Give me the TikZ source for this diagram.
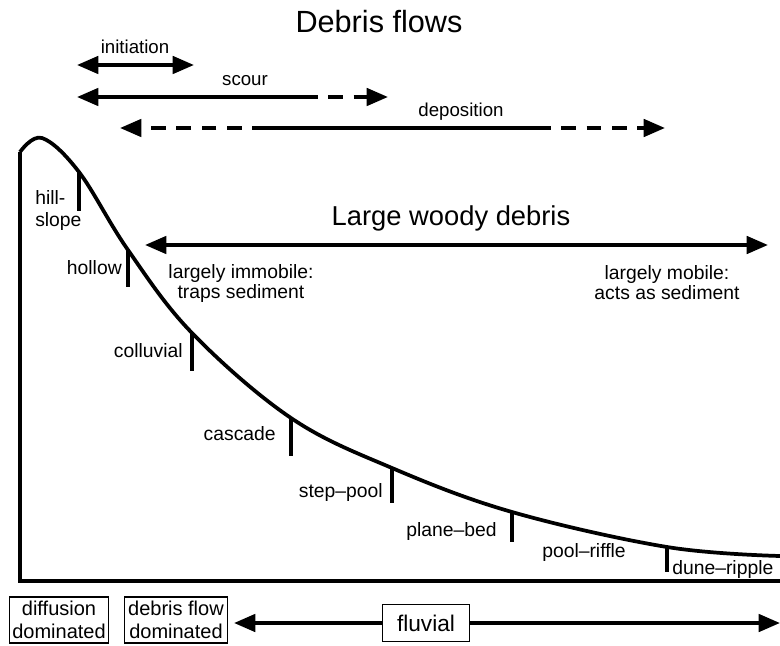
\documentclass[tikz,border=0pt]{standalone}
\usepackage{fontspec}
\setmainfont{Liberation Sans}
\usetikzlibrary{arrows.meta,positioning}

\begin{document}
\begin{tikzpicture}[x=0.75pt,y=-0.75pt,>={Triangle[length=16pt,width=13pt]}]
\tikzstyle{reach} = [font=\fontsize{14.5}{16.5}\selectfont, align=left, inner sep=0pt]
\tikzstyle{note} = [font=\fontsize{14}{15}\selectfont, align=center, inner sep=0pt]
\tikzstyle{thick line} = [line width=2.8pt]
\tikzstyle{broken} = [line width=2.8pt, dash pattern=on 11pt off 8pt]
\tikzstyle{zone} = [draw, line width=1.2pt, font=\fontsize{15}{17}\selectfont, align=center, inner sep=2pt, minimum height=34.5pt]

\useasboundingbox (0,0) rectangle (780,645);

% axes and profile
\coordinate (peakfoot) at (20,152);
\coordinate (origin) at (20,581);
\coordinate (xend) at (780,581);
\draw[thick line] (peakfoot) -- (origin) -- (xend);
\draw[thick line] plot[smooth, tension=0.6] coordinates {(20,152) (42,138) (79,172) (128,250) (192,333) (291,418) (392,468) (512,512) (667,547) (780,556)};

% channel reaches
\draw[thick line] (79,172) -- (79,211);
\node [reach, anchor=west] (hillslope) at (35,211) {hill-\\slope};
\draw[thick line] (128,250) -- (128,287);
\node [reach, anchor=east] (hollow) at (122,268) {hollow};
\draw[thick line] (192,333) -- (192,371);
\node [reach, anchor=east] (colluvial) at (183,351) {colluvial};
\draw[thick line] (291,418) -- (291,456);
\node [reach, anchor=east] (cascade) at (276,434) {cascade};
\draw[thick line] (392,468) -- (392,503);
\node [reach, anchor=east] (steppool) at (383,492) {step--pool};
\draw[thick line] (512,512) -- (512,542);
\node [reach, anchor=east] (planebed) at (497,531) {plane--bed};
\draw[thick line] (667,547) -- (667,572);
\node [reach, anchor=east] (poolriffle) at (626,552) {pool--riffle};
\node [reach, anchor=west] (duneripple) at (672,569) {dune--ripple};

% debris flows
\node [font=\fontsize{23}{24}\selectfont, inner sep=0pt] (debrisflows) at (379,22) {Debris flows};

\coordinate (init l) at (77,65);
\coordinate (init r) at (194,65);
\draw[thick line, <->] (init l) -- (init r);
\node [note] (initiation) at (135,47) {initiation};

\coordinate (scour l) at (77,97);
\coordinate (scour m) at (303,97);
\coordinate (scour r) at (388,97);
\draw[thick line, <-] (scour l) -- (scour m);
\draw[broken, ->] (scour m) -- (scour r);
\node [note] (scour) at (245,81) {scour};

\coordinate (depo l) at (120,128);
\coordinate (depo a) at (267,128);
\coordinate (depo b) at (536,128);
\coordinate (depo r) at (665,128);
\draw[broken, ->] (depo a) -- (depo l);
\draw[thick line] (depo a) -- (depo b);
\draw[broken, ->] (depo b) -- (depo r);
\node [note] (deposition) at (461,112) {deposition};

% large woody debris
\node [font=\fontsize{20.5}{22}\selectfont, inner sep=0pt] (lwd) at (451,218) {Large woody debris};
\coordinate (lwd l) at (145,245);
\coordinate (lwd r) at (768,245);
\draw[thick line, <->] (lwd l) -- (lwd r);
\node [note, font=\fontsize{14.5}{15}\selectfont] (immobile) at (241,283) {largely immobile:\\traps sediment};
\node [note, font=\fontsize{14.5}{15}\selectfont] (mobile) at (667,283) {largely mobile:\\acts as sediment};

% process domains
\node [zone, minimum width=73.5pt] (diffusion) at (59,620) {diffusion\\dominated};
\node [zone, minimum width=77pt, right=11pt of diffusion] (debrisflow) {debris flow\\dominated};
\node [zone, font=\fontsize{17}{18}\selectfont, minimum height=28pt, minimum width=65pt] (fluvial) at (426,623) {fluvial};
\coordinate (fluv l) at (234,623);
\coordinate (fluv r) at (780,623);
\draw[thick line, ->] (fluvial) -- (fluv l);
\draw[thick line, ->] (fluvial) -- (fluv r);
\end{tikzpicture}
\end{document}
